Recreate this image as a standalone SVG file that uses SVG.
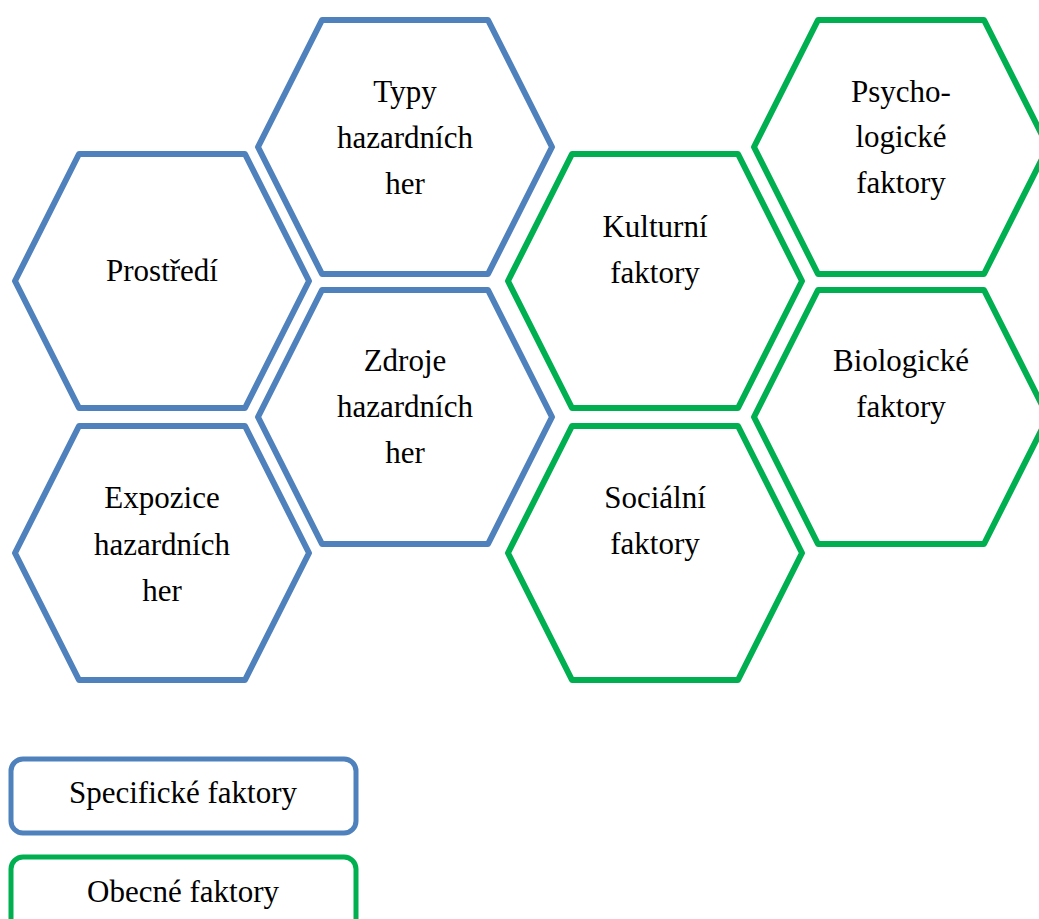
<svg xmlns="http://www.w3.org/2000/svg" width="1039" height="919" viewBox="0 0 1039 919" font-family="'Liberation Serif', serif">
<defs>
<style>
.hb{fill:#fff;stroke:#4F81BD;stroke-width:6;stroke-linejoin:round}
.hg{fill:#fff;stroke:#00B050;stroke-width:6;stroke-linejoin:round}
text{font-family:'Liberation Serif','Times New Roman',serif;font-size:31px;fill:#000;text-anchor:middle}
</style>
<polygon id="hex" points="-147,0 -83,-127 83,-127 147,0 83,127 -83,127"/>
</defs>
<rect width="1039" height="919" fill="#fff"/>
<g id="connectors"></g>
<g id="prostredi"><use href="#hex" class="hb" x="162" y="281"/><text x="162" y="281">Prostředí</text></g>
<g id="typy"><use href="#hex" class="hb" x="405" y="147"/><text x="405" y="102">Typy</text><text x="405" y="148">hazardních</text><text x="405" y="194">her</text></g>
<g id="zdroje"><use href="#hex" class="hb" x="405" y="417"/><text x="405" y="371">Zdroje</text><text x="405" y="417">hazardních</text><text x="405" y="463">her</text></g>
<g id="expozice"><use href="#hex" class="hb" x="162" y="553"/><text x="162" y="508">Expozice</text><text x="162" y="555">hazardních</text><text x="162" y="601">her</text></g>
<g id="kulturni"><use href="#hex" class="hg" x="655" y="281"/><text x="655" y="237">Kulturní</text><text x="655" y="283">faktory</text></g>
<g id="socialni"><use href="#hex" class="hg" x="655" y="553"/><text x="655" y="508">Sociální</text><text x="655" y="554">faktory</text></g>
<g id="psycho"><use href="#hex" class="hg" x="901" y="147"/><text x="901" y="102">Psycho-</text><text x="901" y="147">logické</text><text x="901" y="193">faktory</text></g>
<g id="biologicke"><use href="#hex" class="hg" x="901" y="417"/><text x="901" y="371">Biologické</text><text x="901" y="417">faktory</text></g>
<g id="legend-specificke"><rect x="11" y="759" width="345" height="74" rx="12" fill="#fff" stroke="#4F81BD" stroke-width="5"/><text x="183" y="803">Specifické faktory</text></g>
<g id="legend-obecne"><rect x="11" y="857" width="345" height="74" rx="12" fill="#fff" stroke="#00B050" stroke-width="5"/><text x="183" y="902">Obecné faktory</text></g>
</svg>
